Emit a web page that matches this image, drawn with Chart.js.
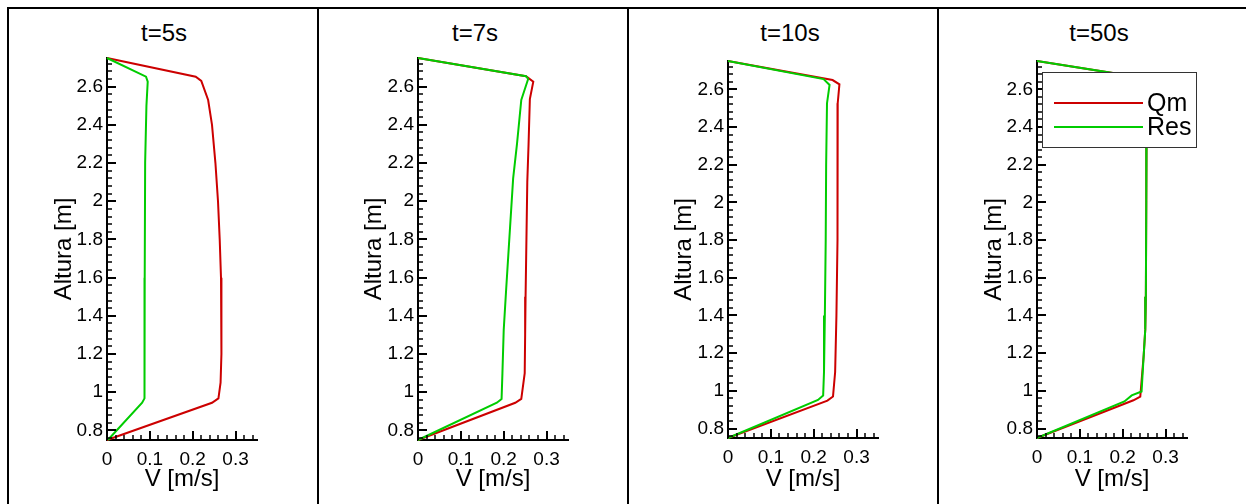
<!DOCTYPE html>
<html lang="pt">
<head>
<meta charset="utf-8">
<title>Perfis de velocidade</title>
<script src="https://cdn.jsdelivr.net/npm/chart.js@4.4.1/dist/chart.umd.min.js"></script>
<style>
  html, body { margin: 0; padding: 0; background: #fff; }
  body { width: 1246px; height: 504px; overflow: hidden; position: relative;
         font-family: Arial, "Liberation Sans", sans-serif; }
  .painel { position: absolute; top: 7px; width: 312px; height: 520px;
            border: 2px solid #000; box-sizing: border-box; }
  .titulo { position: absolute; top: 19px; width: 200px; text-align: center;
            font-size: 24px; line-height: 28px; color: #000; }
  .grafico { position: absolute; top: 10px; width: 308px; height: 494px; }
</style>
</head>
<body>
<script>
Chart.defaults.font.family = 'Arial, "Liberation Sans", sans-serif';
Chart.defaults.color = '#000';

// instantes simulados e séries
const tempos = ['t=5s', 't=7s', 't=10s', 't=50s'];
const nomesSeries = ['Qm', 'Res'];
const coresSeries = ['#cc0000', '#00cc00'];

// perfis [V (m/s), altura (m)]
const qmT5 = [[0, 2.75], [0.207, 2.652], [0.22, 2.63], [0.236, 2.53], [0.245, 2.4], [0.253, 2.2],
  [0.259, 2.0], [0.263, 1.8], [0.266, 1.6], [0.267, 1.4], [0.267, 1.2], [0.265, 1.05],
  [0.26, 0.968], [0.245, 0.945], [0, 0.75]];
const resT5 = [[0, 2.75], [0.091, 2.652], [0.095, 2.626], [0.092, 2.5], [0.089, 2.2],
  [0.088, 1.6], [0.0875, 1.2], [0.0875, 0.968], [0.082, 0.945], [0.002, 0.75]];

const qmT7 = [[0, 2.75], [0.252, 2.655], [0.269, 2.626], [0.261, 2.535], [0.258, 2.3],
  [0.255, 2.1], [0.253, 1.8], [0.251, 1.5], [0.25, 1.3], [0.249, 1.1], [0.241, 0.965],
  [0.227, 0.945], [0, 0.75]];
const resT7 = [[0, 2.75], [0.252, 2.655], [0.257, 2.64], [0.241, 2.53], [0.231, 2.3],
  [0.222, 2.12], [0.213, 1.8], [0.206, 1.55], [0.2, 1.326], [0.197, 1.1], [0.195, 0.965],
  [0.184, 0.945], [0, 0.75]];

const qmT10 = [[0, 2.75], [0.244, 2.649], [0.26, 2.626], [0.256, 2.526], [0.256, 2.2],
  [0.255, 1.8], [0.253, 1.4], [0.25, 1.1], [0.245, 0.97], [0.232, 0.948], [0, 0.75]];
const resT10 = [[0, 2.75], [0.223, 2.654], [0.237, 2.623], [0.231, 2.526], [0.229, 2.2],
  [0.228, 1.8], [0.226, 1.4], [0.224, 1.1], [0.222, 0.975], [0.21, 0.952], [0, 0.75]];

const qmT50 = [[0, 2.75], [0.25, 2.66], [0.258, 2.64], [0.256, 2.5], [0.255, 2.0],
  [0.254, 1.5], [0.2526, 1.325], [0.249, 1.19], [0.241, 0.97], [0.225, 0.95], [0, 0.75]];
const resT50 = [[0, 2.75], [0.25, 2.66], [0.258, 2.64], [0.256, 2.5], [0.255, 2.0],
  [0.254, 1.5], [0.2526, 1.325], [0.249, 1.19], [0.244, 0.997], [0.221, 0.976],
  [0.204, 0.944], [0, 0.75]];

const perfisQm = [qmT5, qmT7, qmT10, qmT50];
const perfisRes = [resT5, resT7, resT10, resT50];

// eixos
const limitesV = [0, 0.35];
const limitesAltura = [0.75, 2.75];
const ticksVMaiores = [0, 0.1, 0.2, 0.3];
const ticksAlturaMaiores = [0.8, 1, 1.2, 1.4, 1.6, 1.8, 2, 2.2, 2.4, 2.6];

function gerarTicks(ini, fim, passo) {
  const lista = [];
  for (let k = 0; ini + k * passo <= fim + 1e-9; k++) lista.push(+(ini + k * passo).toFixed(4));
  return lista;
}
const ticksV = gerarTicks(0, 0.34, 0.02);
const ticksAltura = gerarTicks(0.76, 2.72, 0.04);

const ehMaior = (v, maiores) => maiores.some(m => Math.abs(m - v) < 1e-6);

// posição de cada quadro (px dentro do canvas) e centro do título na página
const quadros = [
  { areaEsq: 98, areaTopo: 48, areaBase: 430, tituloX: 164 },
  { areaEsq: 99, areaTopo: 48, areaBase: 430, tituloX: 475 },
  { areaEsq: 99, areaTopo: 51, areaBase: 428, tituloX: 790 },
  { areaEsq: 98, areaTopo: 51, areaBase: 428, tituloX: 1099 }
];
const larguraArea = 150;
const larguraCanvas = 308, alturaCanvas = 494;

// marcas de escala voltadas para dentro do gráfico
const marcasInternas = {
  id: 'marcasInternas',
  afterDraw(chart) {
    const { ctx, chartArea } = chart;
    const sx = chart.scales.x, sy = chart.scales.y;
    ctx.save();
    ctx.strokeStyle = '#000';
    sx.ticks.forEach(t => {
      const px = Math.round(sx.getPixelForValue(t.value));
      const tam = t.label !== '' ? 9 : 5;
      ctx.lineWidth = t.label !== '' ? 2 : 1.5;
      ctx.beginPath();
      ctx.moveTo(px, chartArea.bottom);
      ctx.lineTo(px, chartArea.bottom - tam);
      ctx.stroke();
    });
    sy.ticks.forEach(t => {
      const py = Math.round(sy.getPixelForValue(t.value));
      const tam = t.label !== '' ? 9 : 5;
      ctx.lineWidth = t.label !== '' ? 2 : 1.5;
      ctx.beginPath();
      ctx.moveTo(chartArea.left, py);
      ctx.lineTo(chartArea.left + tam, py);
      ctx.stroke();
    });
    ctx.restore();
  }
};

// legenda em caixa dentro da área do último quadro
const legendaInterna = {
  id: 'legendaInterna',
  afterDraw(chart) {
    const { ctx, chartArea } = chart;
    const x0 = chartArea.left + 5, y0 = chartArea.top + 11, w = 154, h = 75;
    ctx.save();
    ctx.fillStyle = '#fff';
    ctx.fillRect(x0, y0, w, h);
    ctx.strokeStyle = '#333';
    ctx.lineWidth = 1;
    ctx.strokeRect(x0 + 0.5, y0 + 0.5, w, h);
    ctx.font = '25px Arial, "Liberation Sans", sans-serif';
    ctx.textBaseline = 'middle';
    chart.data.datasets.forEach((ds, k) => {
      const ly = Math.round(y0 + 31 + k * 23.6);
      ctx.strokeStyle = ds.borderColor;
      ctx.lineWidth = 2;
      ctx.beginPath();
      ctx.moveTo(x0 + 12, ly);
      ctx.lineTo(x0 + 101, ly);
      ctx.stroke();
      ctx.fillStyle = '#000';
      ctx.fillText(ds.label, x0 + 105, ly + 1);
    });
    ctx.restore();
  }
};

function criarPainel(i) {
  const q = quadros[i];

  const painel = document.createElement('div');
  painel.className = 'painel';
  painel.style.left = (7 + 310 * i) + 'px';
  document.body.appendChild(painel);

  const titulo = document.createElement('div');
  titulo.className = 'titulo';
  titulo.style.left = (q.tituloX - 100) + 'px';
  titulo.textContent = tempos[i];
  document.body.appendChild(titulo);

  const caixa = document.createElement('div');
  caixa.className = 'grafico';
  caixa.style.left = (9 + 310 * i) + 'px';
  const canvas = document.createElement('canvas');
  canvas.width = larguraCanvas;
  canvas.height = alturaCanvas;
  caixa.appendChild(canvas);
  document.body.appendChild(caixa);

  const padEsq = 40;
  const padDir = larguraCanvas - (q.areaEsq + larguraArea);

  const serie = (perfil, k) => ({
    label: nomesSeries[k],
    data: perfil.map(([v, h]) => ({ x: v, y: h })),
    borderColor: coresSeries[k],
    backgroundColor: coresSeries[k],
    borderWidth: 2,
    showLine: true,
    pointRadius: 0,
    tension: 0,
    clip: false,
    order: k === 0 ? 1 : 0
  });

  new Chart(canvas, {
    type: 'scatter',
    data: { datasets: [serie(perfisQm[i], 0), serie(perfisRes[i], 1)] },
    options: {
      responsive: false,
      animation: false,
      layout: { padding: { left: padEsq, right: padDir, top: q.areaTopo, bottom: 0 } },
      plugins: { legend: { display: false }, tooltip: { enabled: false } },
      scales: {
        x: {
          type: 'linear',
          min: limitesV[0], max: limitesV[1],
          afterBuildTicks: s => { s.ticks = ticksV.map(v => ({ value: v })); },
          afterFit: s => { s.height = alturaCanvas - q.areaBase; },
          ticks: {
            autoSkip: false, maxRotation: 0, padding: 8,
            font: { size: 19 },
            callback: v => ehMaior(v, ticksVMaiores) ? String(v) : ''
          },
          grid: { display: false, drawTicks: false },
          border: { display: true, color: '#000', width: 2 },
          title: { display: true, text: 'V [m/s]', font: { size: 24 }, padding: { top: 0, bottom: 10 } }
        },
        y: {
          type: 'linear',
          min: limitesAltura[0], max: limitesAltura[1],
          afterBuildTicks: s => { s.ticks = ticksAltura.map(v => ({ value: v })); },
          afterFit: s => { s.width = q.areaEsq - padEsq; },
          ticks: {
            autoSkip: false, padding: 4,
            font: { size: 19 },
            callback: v => ehMaior(v, ticksAlturaMaiores) ? String(v) : ''
          },
          grid: { display: false, drawTicks: false },
          border: { display: true, color: '#000', width: 2 },
          title: { display: true, text: 'Altura [m]', font: { size: 24 }, padding: { top: 1, bottom: 0 } }
        }
      }
    },
    plugins: i === 3 ? [marcasInternas, legendaInterna] : [marcasInternas]
  });
}

tempos.forEach((_, i) => criarPainel(i));
</script>
</body>
</html>
